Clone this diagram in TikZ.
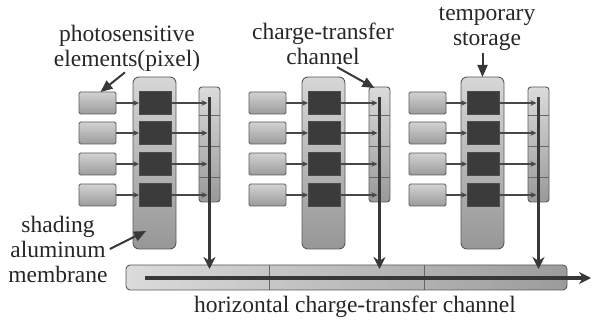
\documentclass[tikz,border=0pt]{standalone}
\usepackage{fontspec}
\setmainfont{Liberation Serif}
\newfontfamily\lblserif{Liberation Serif}
\usetikzlibrary{arrows.meta,calc}
\tikzset{
 pixbox/.style={draw=black!65, line width=0.9pt, rounded corners=1.5pt, top color=gray!35, bottom color=gray!78, minimum width=37pt, minimum height=22pt, inner sep=0pt, outer sep=0pt, anchor=west},
 storebox/.style={draw=black!65, line width=0.9pt, rounded corners=6pt, top color=gray!32, bottom color=gray!82, minimum width=43pt, minimum height=172pt, inner sep=0pt, outer sep=0pt, anchor=north west},
 darksq/.style={fill=black!77, draw=black!70, line width=0.4pt, minimum width=32pt, minimum height=23pt, inner sep=0pt, outer sep=0pt, anchor=west},
 chframe/.style={draw=black!65, line width=0.9pt, rounded corners=3pt, top color=gray!28, bottom color=gray!80, minimum width=21pt, minimum height=115pt, inner sep=0pt, outer sep=0pt, anchor=north west},
 hbarst/.style={draw=black!65, line width=0.9pt, rounded corners=4pt, left color=gray!28, right color=gray!78, minimum width=441pt, minimum height=25pt, inner sep=0pt, outer sep=0pt, anchor=north west},
 divline/.style={draw=black!60, line width=0.7pt},
 thinarrow/.style={draw=black!72, line width=1.2pt, -{Stealth[length=6pt,width=5.5pt]}},
 thickarrow/.style={draw=black!78, line width=3.2pt, -{Stealth[length=12pt,width=12pt]}},
 pointer/.style={draw=black!78, line width=2pt, -{Triangle[length=12pt,width=10pt]}},
 lbl/.style={font=\lblserif\fontsize{23.5}{25}\selectfont, align=center, text=black!85, inner sep=0pt},
}
\begin{document}
\begin{tikzpicture}[x=1pt,y=-1pt]
\useasboundingbox (0,0) rectangle (592,320);
\node[hbarst] (hbar) at (126,265) {};
\draw[divline] (269,265) -- (269,290);
\draw[divline] (424,265) -- (424,290);
\foreach \g/\px/\sx/\cx in {1/79/133/199, 2/249/302/369, 3/409/461/528} {
  \node[storebox] (st\g) at (\sx,77) {};
  \node[chframe] (ch\g) at (\cx,87) {};
  \foreach \yy in {115,146,177} { \draw[divline] (\cx,\yy) -- (\cx+21,\yy); }
  \foreach \r/\ry in {1/103, 2/133, 3/164, 4/195} {
    \node[pixbox] (p\g\r) at (\px,\ry) {};
    \node[darksq] (q\g\r) at (\sx+6,\ry) {};
    \draw[thinarrow] (p\g\r.east) -- (q\g\r.west);
    \draw[thinarrow] (q\g\r.east) -- ($(ch\g.center |- q\g\r.east)+(-2,0)$);
  }
  \draw[thickarrow] ($(ch\g.north)+(0,10)$) -- ($(ch\g.center |- hbar.north)+(0,4)$);
}
\coordinate (hs) at (145,278);
\coordinate (he) at (591,278);
\draw[thickarrow] (hs) -- (he);
\node[lbl] (lp) at (127,48) {photosensitive\\elements(pixel)};
\node[lbl] (lc) at (323,44) {charge-transfer\\channel};
\node[lbl] (lt) at (487,29) {temporary\\storage};
\node[lbl] (ls) at (58,249) {shading\\aluminum\\membrane};
\node[lbl] (lh) at (355,307) {horizontal charge-transfer channel};
\draw[pointer] ($(lp.south)+(-2,1)$) -- ($(p11.north)+(3,0)$);
\draw[pointer] ($(lc.south)+(14,2)$) -- ($(ch2.north)+(-5,1)$);
\draw[pointer] (st3.north |- lt.south) ++(0,2) -- (st3.north);
\coordinate (sh) at (146,231);
\draw[pointer] ($(ls.east)+(2,0)$) -- (sh);
\end{tikzpicture}
\end{document}
